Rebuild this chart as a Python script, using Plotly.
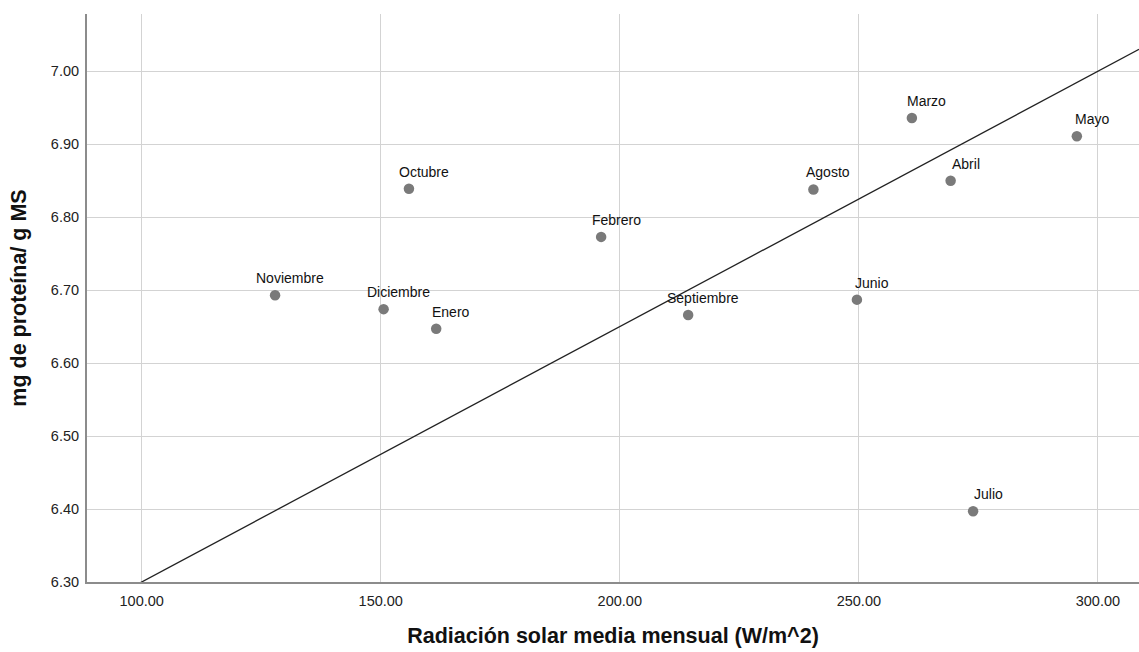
import plotly.graph_objects as go

months = ["Noviembre", "Diciembre", "Enero", "Octubre", "Febrero", "Septiembre",
          "Agosto", "Marzo", "Abril", "Mayo", "Junio", "Julio"]
radiacion = [127.9, 150.6, 161.6, 155.9, 196.1, 214.3, 240.5, 261.1, 269.2, 295.6, 249.6, 273.9]
proteina = [6.693, 6.674, 6.647, 6.839, 6.773, 6.666, 6.838, 6.936, 6.850, 6.911, 6.687, 6.397]

fit_intercept = 5.95
fit_slope = 0.0035

x_range = [88.56, 308.6]
y_range = [6.30, 7.0785]
x_ticks = [100, 150, 200, 250, 300]
y_ticks = [6.30, 6.40, 6.50, 6.60, 6.70, 6.80, 6.90, 7.00]

fig = go.Figure()

fit_x = [x_range[0], x_range[1]]
fit_y = [fit_intercept + fit_slope * v for v in fit_x]
fig.add_trace(go.Scatter(x=fit_x, y=fit_y, mode="lines",
                         line=dict(color="#222222", width=1.3),
                         hoverinfo="skip", showlegend=False))

fig.add_trace(go.Scatter(x=radiacion, y=proteina, mode="markers",
                         marker=dict(color="#7a7a7a", size=10.5),
                         showlegend=False, cliponaxis=False))

for m, xv, yv in zip(months, radiacion, proteina):
    fig.add_annotation(x=xv, y=yv, text=m, showarrow=False,
                       xshift=15, yshift=17,
                       font=dict(family="Liberation Sans, Arial", size=14, color="#111111"))

axis_font = dict(family="Liberation Sans, Arial", size=14.5, color="#222222")
title_font = dict(family="Liberation Sans, Arial", size=21.5, color="#111111", weight="bold")
fig.update_xaxes(range=x_range, tickvals=x_ticks, tickformat=".2f",
                 showgrid=True, gridcolor="#d3d3d3", gridwidth=1.3,
                 showline=True, linecolor="#8c8c8c", linewidth=2,
                 zeroline=False, ticks="", tickfont=axis_font, ticklabelstandoff=5,
                 title=dict(text="Radiación solar media mensual (W/m^2)",
                            font=title_font, standoff=20))
fig.update_yaxes(range=y_range, tickvals=y_ticks, tickformat=".2f",
                 showgrid=True, gridcolor="#d3d3d3", gridwidth=1.3,
                 showline=True, linecolor="#8c8c8c", linewidth=2,
                 zeroline=False, ticks="", tickfont=axis_font, ticklabelstandoff=3,
                 title=dict(text="mg de proteína/ g MS",
                            font=title_font, standoff=18))

fig.update_layout(width=1139, height=652, plot_bgcolor="white", paper_bgcolor="white",
                  margin=dict(l=87, r=0, t=14, b=70, autoexpand=False),
                  showlegend=False)

fig.write_html("out.html")
